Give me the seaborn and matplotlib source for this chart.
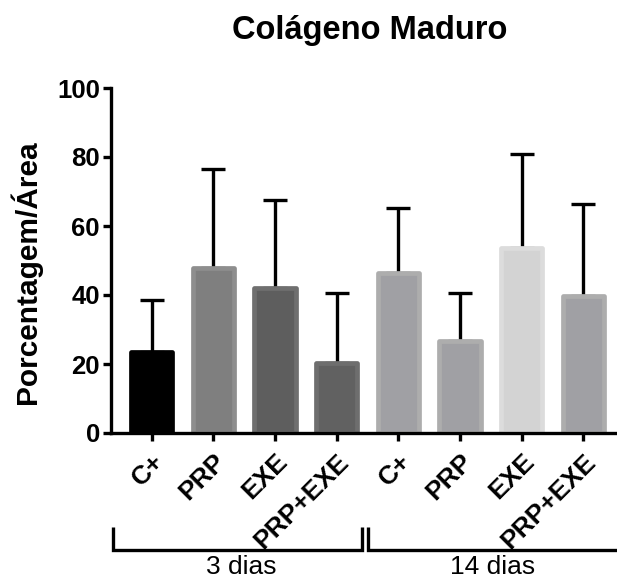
import matplotlib
matplotlib.use("Agg")
import matplotlib.pyplot as plt
import matplotlib.transforms as mtransforms
import seaborn as sns
import pandas as pd
import numpy as np

# ---- data ----
groups = ["3 dias", "3 dias", "3 dias", "3 dias", "14 dias", "14 dias", "14 dias", "14 dias"]
treatments = ["C+", "PRP", "EXE", "PRP+EXE", "C+", "PRP", "EXE", "PRP+EXE"]
means = [23.6, 47.8, 41.9, 20.4, 46.4, 26.7, 53.7, 39.6]
sd_upper = [14.9, 28.8, 25.6, 20.1, 18.7, 14.0, 27.2, 26.7]
fill_colors = ["#000000", "#7f7f7f", "#5e5e5e", "#616161", "#a0a0a4", "#a0a0a4", "#d3d3d3", "#a0a0a4"]
edge_colors = ["#000000", "#8e8e8e", "#6f6f6f", "#6e6e6e", "#adadad", "#adadad", "#dcdcdc", "#adadad"]
yticks = [0, 20, 40, 60, 80, 100]

sns.set_theme(style="ticks")
plt.rcParams["font.family"] = ["Liberation Sans", "DejaVu Sans"]
plt.rcParams["text.color"] = "black"
plt.rcParams["axes.labelcolor"] = "black"
plt.rcParams["xtick.color"] = "black"
plt.rcParams["ytick.color"] = "black"

ids = [f"{g}|{t}|{i}" for i, (g, t) in enumerate(zip(groups, treatments))]
df = pd.DataFrame({"id": ids, "mean": means, "sd": sd_upper, "group": groups})

fig = plt.figure(figsize=(6.17, 5.79), dpi=100)
ax = fig.add_axes([111 / 617, 1 - 433 / 579, 1 - 111 / 617, 345 / 579])

sns.barplot(data=df, x="id", y="mean", hue="id", palette=fill_colors, order=ids,
            hue_order=ids, legend=False, errorbar=None, width=0.67, ax=ax,
            saturation=1)
for patch, ec in zip(ax.patches, edge_colors):
    patch.set_edgecolor(ec)
    patch.set_linewidth(3.4)
    patch.set_joinstyle("round")
    patch.set_zorder(2)

xpos = np.arange(len(ids))
ax.errorbar(xpos, df["mean"], yerr=[np.zeros(len(ids)), df["sd"]], fmt="none",
            ecolor="black", elinewidth=2.4, capsize=8.3, capthick=2.4, zorder=1)

ax.set_xlim(-0.66, 7.545)
ax.set_ylim(0, 100)
ax.set_yticks(yticks)
ax.set_yticklabels([str(v) for v in yticks], fontsize=18.5, fontweight="bold")
ax.set_xticks(xpos)
ax.set_xticklabels(treatments, rotation=45, ha="right", rotation_mode="anchor",
                   fontsize=19, fontweight="bold")
ax.set_xlabel("")
ax.set_ylabel("")
fig.text(26 / 617, 1 - 272 / 579, "Porcentagem/Área", fontsize=21.5, fontweight="bold",
         rotation=90, ha="center", va="center")
fig.text(370 / 617, 1 - 31 / 579, "Colágeno Maduro", fontsize=23.5, fontweight="bold",
         ha="center", va="center")

for side in ["top", "right"]:
    ax.spines[side].set_visible(False)
for side in ["left", "bottom"]:
    ax.spines[side].set_linewidth(2.4)
    ax.spines[side].set_color("black")
    ax.spines[side].set_zorder(3)
ax.tick_params(axis="both", direction="out", length=6, width=2.4, color="black", pad=2)
ax.tick_params(axis="x", pad=6)

# group brackets below the axis
trans = mtransforms.blended_transform_factory(ax.transData, ax.transAxes)
y_line = (433 - 550) / 345
y_top = (433 - 527) / 345
ax.plot([-0.63, -0.63, 3.41, 3.41], [y_top, y_line, y_line, y_top], transform=trans,
        color="black", lw=2.4, clip_on=False, solid_joinstyle="miter", solid_capstyle="butt")
ax.plot([3.51, 3.51, 7.7], [y_top, y_line, y_line], transform=trans,
        color="black", lw=2.4, clip_on=False, solid_joinstyle="miter", solid_capstyle="butt")
for label, xc in [("3 dias", 1.45), ("14 dias", 5.52)]:
    ax.text(xc, (433 - 567) / 345, label, transform=trans, ha="center", va="center",
            fontsize=19)

fig.savefig("out.png", dpi=100)
